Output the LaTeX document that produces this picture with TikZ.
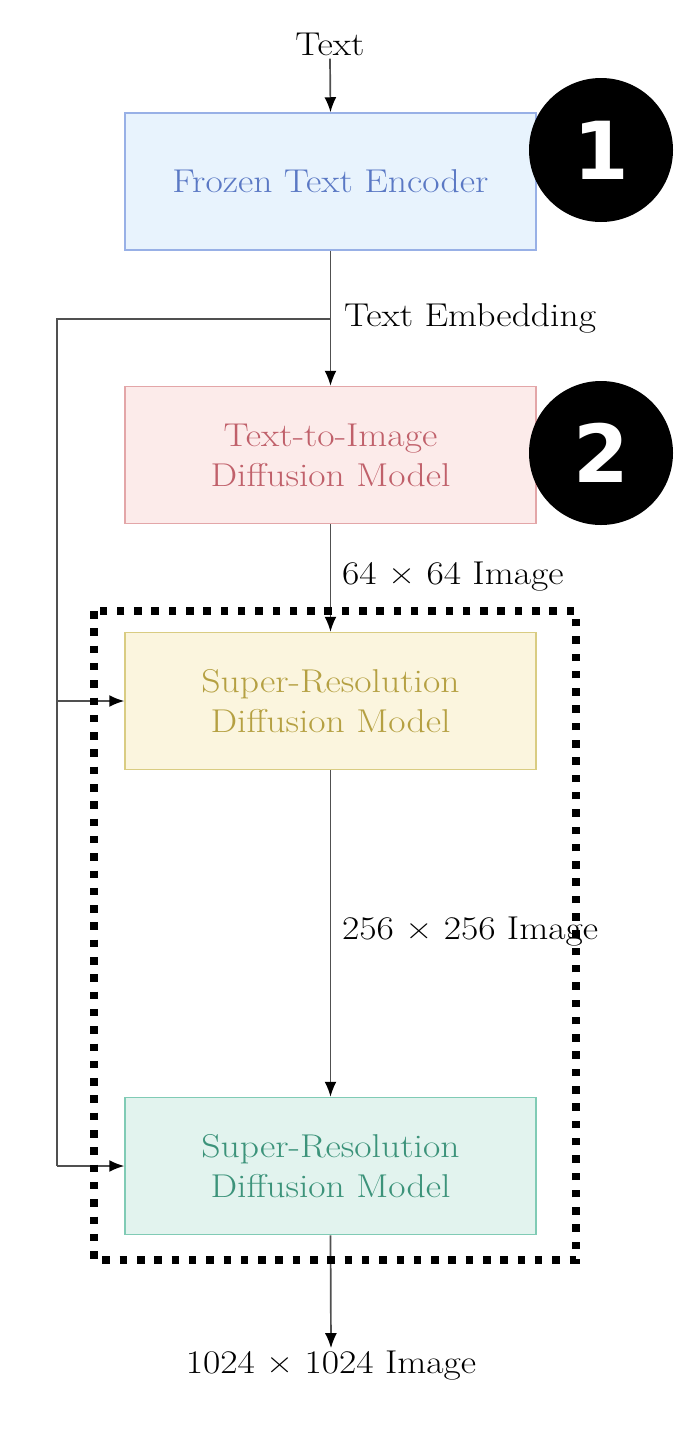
\documentclass[tikz,border=0pt]{standalone}
\usepackage{fontspec}
\setmainfont{Latin Modern Roman}[FakeStretch=1.14]
\newfontfamily\numfont{DejaVu Sans}
\usetikzlibrary{arrows.meta}
\definecolor{encfill}{HTML}{E8F3FD}
\definecolor{encdraw}{HTML}{98B0E6}
\definecolor{enctext}{HTML}{5A78C4}
\definecolor{t2ifill}{HTML}{FCEBEA}
\definecolor{t2idraw}{HTML}{E3A6A8}
\definecolor{t2itext}{HTML}{C0606A}
\definecolor{sr1fill}{HTML}{FBF5DE}
\definecolor{sr1draw}{HTML}{D9CC82}
\definecolor{sr1text}{HTML}{B5A042}
\definecolor{sr2fill}{HTML}{E2F3EE}
\definecolor{sr2draw}{HTML}{80CBB5}
\definecolor{sr2text}{HTML}{3C937A}
\definecolor{linegray}{HTML}{505050}
\tikzset{
  modelbox/.style={draw, line width=1.5pt, minimum width=411pt, minimum height=137pt,
    align=center, inner sep=0pt, font=\fontsize{33}{40}\selectfont},
  lbl/.style={inner sep=3pt, font=\fontsize{33}{40}\selectfont, text=black},
  conn/.style={draw=linegray, line width=1.7pt},
  arr/.style={conn, -{Latex[length=15pt,width=12pt,color=black]}},
  badge/.style={circle, fill=black, minimum size=144pt, inner sep=0pt,
    text=white, font=\numfont\bfseries\fontsize{80}{90}\selectfont},
}
\begin{document}
\begin{tikzpicture}[x=1pt,y=-1pt]
\useasboundingbox (0,0) rectangle (693,1430);
\fill[white] (0,0) rectangle (693,1430);

\node[lbl] (txt) at (330,44) {Text};
\node[modelbox, fill=encfill, draw=encdraw, text=enctext] (enc) at (330.5,181.5) {Frozen Text Encoder};
\node[badge] (b1) at (601,150) {1};

\node[modelbox, fill=t2ifill, draw=t2idraw, text=t2itext] (t2i) at (330.5,455) {Text-to-Image\\Diffusion Model};
\node[badge] (b2) at (601,453) {2};

\node[modelbox, fill=sr1fill, draw=sr1draw, text=sr1text] (sr1) at (330.5,701) {Super-Resolution\\Diffusion Model};
\node[modelbox, fill=sr2fill, draw=sr2draw, text=sr2text] (sr2) at (330.5,1166) {Super-Resolution\\Diffusion Model};

\node[lbl] (out) at (331,1366) {1024 × 1024 Image};

\coordinate (split) at (330.5,319);
\coordinate (lft) at (57,319);

\draw[arr] (txt.south) -- (enc.north);
\draw[arr] (enc.south) -- (t2i.north);
\draw[conn] (split) -- (lft) -- (lft |- sr2.west);
\draw[arr] (lft |- sr1.west) -- (sr1.west);
\draw[arr] (lft |- sr2.west) -- (sr2.west);
\draw[arr] (t2i.south) -- (sr1.north);
\draw[arr] (sr1.south) -- (sr2.north);
\draw[arr] (sr2.south) -- (out.north);

\node[lbl, anchor=west] (l1) at (341,318) {Text Embedding};
\node[lbl, anchor=west] (l2) at (339,577) {64 × 64 Image};
\node[lbl, anchor=west] (l3) at (339,932) {256 × 256 Image};

\draw[line width=7.5pt, dash pattern=on 7.5pt off 9.8pt] (94,611) rectangle (576,1260);
\end{tikzpicture}
\end{document}
